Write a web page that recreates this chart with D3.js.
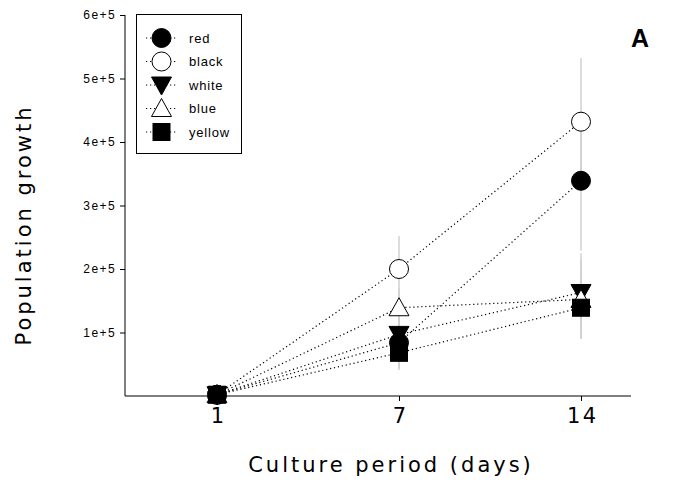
<!DOCTYPE html>
<html>
<head>
<meta charset="utf-8">
<script src="https://cdn.jsdelivr.net/npm/d3@7"></script>
<style>
  body { margin: 0; background: #fff; }
  svg { display: block; }
</style>
</head>
<body>
<div id="chart"></div>
<script>
const days = ["1", "7", "14"];
const yTicks = [1e5, 2e5, 3e5, 4e5, 5e5, 6e5];
const seriesNames = ["red", "black", "white", "blue", "yellow"];
const redVals = [2000, 84000, 339000];
const blackVals = [2000, 200000, 432000];
const whiteVals = [2000, 97000, 163000];
const blueVals = [2000, 139000, 152000];
const yellowVals = [2000, 68000, 139000];
const redErr = [0, 40000, 110000];
const blackErr = [0, 52000, 100000];
const whiteErr = [0, 30000, 62000];
const blueErr = [0, 30000, 62000];
const yellowErr = [0, 27000, 49000];

const symbols = {
    red: { type: "circle", fill: "#000" },
    black: { type: "circle", fill: "#fff" },
    white: { type: "down", fill: "#000" },
    blue: { type: "up", fill: "#fff" },
    yellow: { type: "square", fill: "#000" }
};

const series = [
    { name: "red", values: redVals, err: redErr },
    { name: "black", values: blackVals, err: blackErr },
    { name: "white", values: whiteVals, err: whiteErr },
    { name: "blue", values: blueVals, err: blueErr },
    { name: "yellow", values: yellowVals, err: yellowErr }
];

const width = 684, height = 483;
const svg = d3.select("#chart").append("svg")
    .attr("width", width).attr("height", height);

const x = d3.scalePoint().domain(days).range([217, 581]);
const y = d3.scaleLinear().domain([0, 6e5]).range([396, 15]);

const axisLeft = 125, axisRight = 631;
const sansWide = "DejaVu Sans, Verdana, sans-serif";
const arial = "Liberation Sans, Arial, sans-serif";

// error bars
series.forEach(s => {
    svg.append("g").selectAll("line")
        .data(days.map((d, i) => ({ d, v: s.values[i], e: s.err[i] })).filter(p => p.e > 0))
        .join("line")
        .attr("x1", p => x(p.d)).attr("x2", p => x(p.d))
        .attr("y1", p => y(p.v - p.e)).attr("y2", p => y(p.v + p.e))
        .attr("stroke", "#d0d0d0").attr("stroke-width", 1.5);
});

// axes
const ya = svg.append("g")
    .attr("transform", `translate(${axisLeft},0)`)
    .call(d3.axisLeft(y).tickValues(yTicks).tickSize(5).tickSizeOuter(0)
        .tickFormat(d => (d / 1e5) + "e+5"));
ya.select(".domain").remove();
ya.append("line").attr("x1", 0).attr("x2", 0).attr("y1", y(6e5)).attr("y2", y(0))
    .attr("stroke", "#000");
ya.selectAll("text")
    .style("font-family", arial).style("font-size", "12px")
    .style("letter-spacing", "1.4px")
    .attr("fill", "#000").attr("x", -9);

const xa = svg.append("g")
    .attr("transform", `translate(0,${y(0)})`)
    .call(d3.axisBottom(x).tickSize(5).tickSizeOuter(0));
xa.select(".domain").remove();
xa.append("line").attr("x1", axisLeft).attr("x2", axisRight).attr("stroke", "#000");
xa.selectAll("text")
    .style("font-family", sansWide).style("font-size", "21px")
    .style("letter-spacing", "2.4px")
    .attr("fill", "#000").attr("dy", "0.92em").attr("dx", "1.2px");

// lines
const line = d3.line().x((v, i) => x(days[i])).y(v => y(v));
series.forEach(s => {
    svg.append("path").attr("d", line(s.values))
        .attr("fill", "none").attr("stroke", "#000")
        .attr("stroke-width", 1.2).attr("stroke-dasharray", "1.2,2.8");
});

function drawSymbol(g, name, cx, cy) {
    const sym = symbols[name];
    const r = 9.5;
    let el;
    if (sym.type === "circle") {
        el = g.append("circle").attr("cx", cx).attr("cy", cy).attr("r", r);
    } else if (sym.type === "square") {
        el = g.append("rect").attr("x", cx - 8.5).attr("y", cy - 8.5)
            .attr("width", 17).attr("height", 17);
    } else if (sym.type === "down") {
        el = g.append("path").attr("d", `M${cx - 10},${cy - 8} L${cx + 10},${cy - 8} L${cx},${cy + 10} Z`);
    } else {
        el = g.append("path").attr("d", `M${cx - 10},${cy + 8} L${cx + 10},${cy + 8} L${cx},${cy - 10} Z`);
    }
    el.attr("fill", sym.fill).attr("stroke", "#000").attr("stroke-width", 1);
}

// markers
series.forEach(s => {
    const g = svg.append("g");
    s.values.forEach((v, i) => drawSymbol(g, s.name, x(days[i]), y(v)));
});

// legend
const lg = svg.append("g");
lg.append("rect").attr("x", 136.5).attr("y", 14.5).attr("width", 105).attr("height", 139)
    .attr("fill", "#fff").attr("stroke", "#000");
seriesNames.forEach((n, i) => {
    const ly = 38 + i * 23.5;
    lg.append("line").attr("x1", 146).attr("x2", 177).attr("y1", ly).attr("y2", ly)
        .attr("stroke", "#000").attr("stroke-width", 1.2).attr("stroke-dasharray", "1.2,2.8");
    drawSymbol(lg, n, 161.5, ly);
    lg.append("text").attr("x", 189).attr("y", ly + 4.5).text(n)
        .style("font-family", arial).style("font-size", "13px")
        .style("letter-spacing", "0.8px");
});

// labels
svg.append("text").attr("x", 391).attr("y", 472).attr("text-anchor", "middle")
    .style("font-family", sansWide).style("font-size", "21px")
    .style("letter-spacing", "3px")
    .text("Culture period (days)");
svg.append("text").attr("transform", "translate(31,225) rotate(-90)")
    .attr("text-anchor", "middle")
    .style("font-family", sansWide).style("font-size", "21px")
    .style("letter-spacing", "3px")
    .text("Population growth");
svg.append("text").attr("x", 640).attr("y", 47).attr("text-anchor", "middle")
    .style("font-family", arial).style("font-size", "25px")
    .style("font-weight", "bold").text("A");
</script>
</body>
</html>
